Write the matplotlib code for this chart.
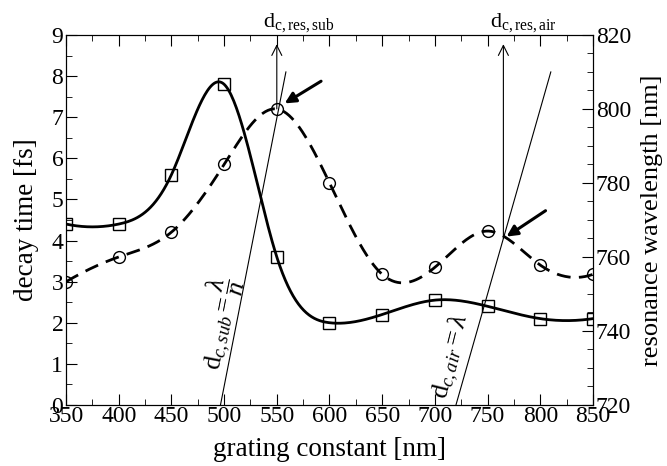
import numpy as np
import matplotlib
matplotlib.use("Agg")
import matplotlib.pyplot as plt
from matplotlib.ticker import MultipleLocator

plt.rcParams.update({
    "font.family": "Liberation Serif",
    "mathtext.fontset": "custom",
    "mathtext.rm": "Liberation Serif",
    "mathtext.it": "Liberation Serif:italic",
    "font.size": 14,
})

# grating constant [nm]
grating = [350, 400, 450, 500, 550, 600, 650, 700, 750, 800, 850]
# decay time [fs] (squares, left axis)
decay = [4.4, 4.4, 5.6, 7.8, 3.6, 2.0, 2.2, 2.55, 2.4, 2.1, 2.1]
# resonance wavelength [nm] (circles, right axis)
wavelength = [753.3, 760.0, 766.7, 785.0, 800.0, 780.0, 755.3, 757.2, 767.0, 757.8, 755.3]

# critical grating lines: d = lambda / n (substrate), d = lambda (air)
n_sub = 1.45
lam_line = [720, 810]
# arrows marking the resonance crossings (grating constant, wavelength)
res_sub = (550, 800.0)
res_air = (765, 765.0)


def spline(x, y, num=400):
    """cubic spline, parabolic run-out ends"""
    x = np.asarray(x, float)
    y = np.asarray(y, float)
    n = len(x)
    h = np.diff(x)
    A = np.zeros((n, n))
    b = np.zeros(n)
    A[0, :2] = [1, -1]
    A[-1, -2:] = [-1, 1]
    for i in range(1, n - 1):
        A[i, i - 1] = h[i - 1]
        A[i, i] = 2 * (h[i - 1] + h[i])
        A[i, i + 1] = h[i]
        b[i] = 6 * ((y[i + 1] - y[i]) / h[i] - (y[i] - y[i - 1]) / h[i - 1])
    M = np.linalg.solve(A, b)
    xs = np.linspace(x[0], x[-1], num)
    k = np.clip(np.searchsorted(x, xs) - 1, 0, n - 2)
    hk = h[k]
    a = x[k + 1] - xs
    c = xs - x[k]
    ys = (M[k] * a ** 3 + M[k + 1] * c ** 3) / (6 * hk) \
        + (y[k] / hk - M[k] * hk / 6) * a + (y[k + 1] / hk - M[k + 1] * hk / 6) * c
    return xs, ys


fig = plt.figure(figsize=(6.67, 4.66), dpi=100)
ax = fig.add_axes([0.099, 0.131, 0.790, 0.794])
ax2 = ax.twinx()

xs, ys = spline(grating, decay)
ax.plot(xs, ys, "k-", lw=2.0)
ax.plot(grating, decay, "ks", mfc="none", ms=8, mew=1.0)

xs, ws = spline(grating, wavelength)
ax2.plot(xs, ws, "k--", lw=2.0, dashes=(5, 3))
ax2.plot(grating, wavelength, "ko", mfc="none", ms=8.5, mew=1.0)

lam = np.array(lam_line, float)
ax2.plot(lam / n_sub, lam, "k-", lw=0.8)
ax2.plot(lam, lam, "k-", lw=0.8)

# vertical arrows up to the labels
for (xr, wr) in (res_sub, res_air):
    ax2.annotate("", xy=(xr, 817.5), xytext=(xr, wr),
                 arrowprops=dict(arrowstyle="->", lw=0.8, color="k",
                                 mutation_scale=18, shrinkA=0, shrinkB=0))
ax2.text(res_sub[0] - 13, 822.2, r"$\mathrm{d}_{\mathrm{c,res,sub}}$", ha="left",
         va="baseline", fontsize=16)
ax2.text(res_air[0] - 13, 822.2, r"$\mathrm{d}_{\mathrm{c,res,air}}$", ha="left",
         va="baseline", fontsize=16)

# bold arrows pointing at crossings
ax2.annotate("", xy=(557.5, 801.5), xytext=(592, 807.5),
             arrowprops=dict(arrowstyle="-|>", lw=2.2, color="k",
                             mutation_scale=16, shrinkA=0, shrinkB=0))
ax2.annotate("", xy=(768, 765.5), xytext=(805, 772.5),
             arrowprops=dict(arrowstyle="-|>", lw=2.2, color="k",
                             mutation_scale=16, shrinkA=0, shrinkB=0))

ax2.text(494, 742, r"$\mathrm{d}_{c,sub}=\dfrac{\lambda}{n}$", rotation=79,
         ha="center", va="center", fontsize=19)
ax2.text(716, 733, r"$\mathrm{d}_{c,air}=\lambda$", rotation=76,
         ha="center", va="center", fontsize=19)

ax.set_xlim(350, 850)
ax.set_ylim(0, 9)
ax2.set_ylim(720, 820)
ax.xaxis.set_major_locator(MultipleLocator(50))
ax.xaxis.set_minor_locator(MultipleLocator(25))
ax.yaxis.set_major_locator(MultipleLocator(1))
ax.yaxis.set_minor_locator(MultipleLocator(0.5))
ax2.yaxis.set_major_locator(MultipleLocator(20))
ax2.yaxis.set_minor_locator(MultipleLocator(5))

ax.tick_params(axis="x", which="both", direction="in", top=True, labelsize=17, pad=1)
ax.tick_params(axis="y", which="both", direction="in", labelsize=17, pad=2)
ax2.tick_params(axis="y", which="both", direction="in", labelsize=17, pad=2)
for a in (ax, ax2):
    a.tick_params(which="major", length=8)
    a.tick_params(which="minor", length=4)

ax.set_xlabel("grating constant [nm]", fontsize=19.5, labelpad=7)
ax.set_ylabel("decay time [fs]", fontsize=19.5, labelpad=9)
ax2.set_ylabel("resonance wavelength [nm]", fontsize=19, labelpad=7)

fig.savefig("out.png", dpi=100)
